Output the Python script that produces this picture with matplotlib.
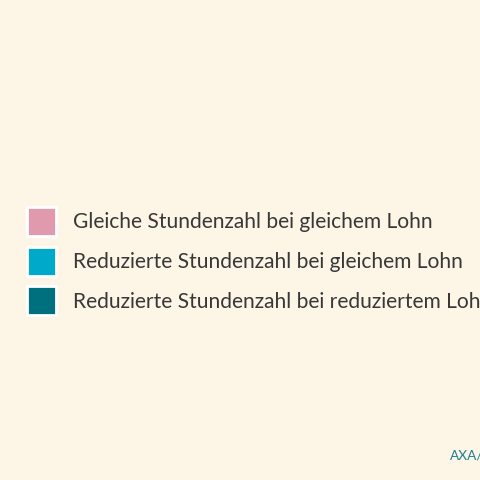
import matplotlib
matplotlib.use("Agg")
import matplotlib.pyplot as plt
from matplotlib.patches import Rectangle

labels = [
    "Gleiche Stundenzahl bei gleichem Lohn",
    "Reduzierte Stundenzahl bei gleichem Lohn",
    "Reduzierte Stundenzahl bei reduziertem Lohn",
]
colors = ["#E199AD", "#00A9C9", "#00707F"]
source = "AXA/Ipsos"

BG = "#FDF6E7"
W = H = 480
fig = plt.figure(figsize=(4.8, 4.8), dpi=100, facecolor=BG)
ax = fig.add_axes([0, 0, 1, 1])
ax.set_xlim(0, W)
ax.set_ylim(H, 0)
ax.axis("off")
ax.set_facecolor(BG)

top = 207
step = 39.5
size = 29
for i, (lab, col) in enumerate(zip(labels, colors)):
    y = top + i * step
    ax.add_patch(Rectangle((27, y), size, size, facecolor=col, edgecolor="white", linewidth=2))
    ax.text(73, y + size / 2 + 1, lab, fontsize=15.1, family="Lato", color="#383838",
            va="center", ha="left")

ax.text(450, 456, source, fontsize=9.8, family="Lato", color="#1F7F8F", va="center", ha="left")

fig.savefig("out.png", dpi=100, facecolor=BG)
